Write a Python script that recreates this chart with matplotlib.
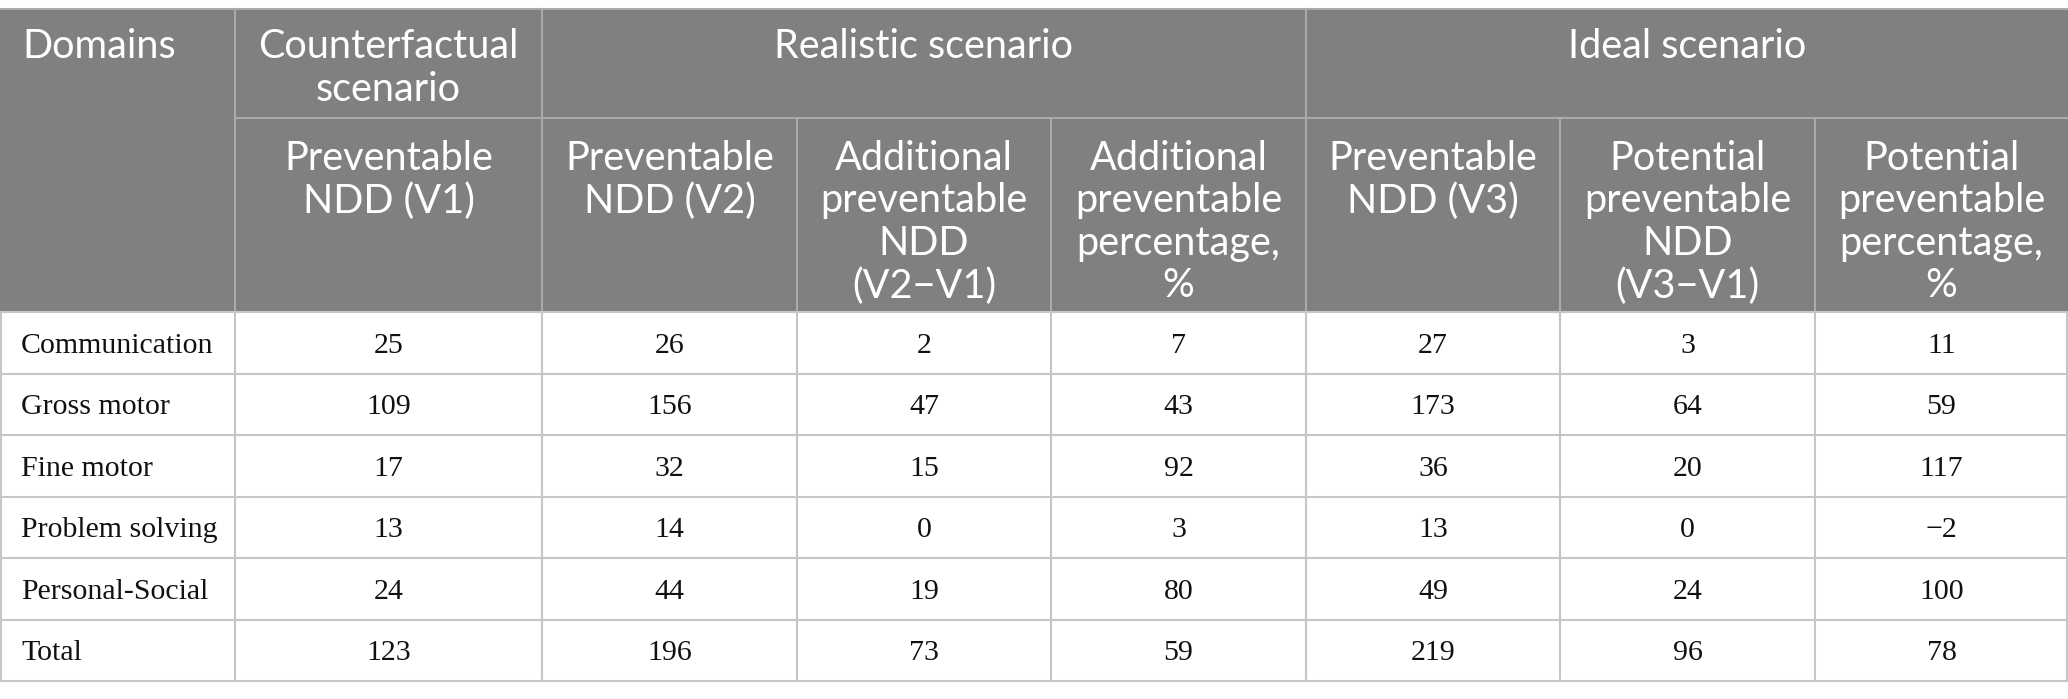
import matplotlib
matplotlib.use("Agg")
import matplotlib.pyplot as plt
from matplotlib.patches import Rectangle

domains = ["Communication", "Gross motor", "Fine motor", "Problem solving", "Personal-Social", "Total"]
v1 = ["25", "109", "17", "13", "24", "123"]
v2 = ["26", "156", "32", "14", "44", "196"]
v2_v1 = ["2", "47", "15", "0", "19", "73"]
add_pct = ["7", "43", "92", "3", "80", "59"]
v3 = ["27", "173", "36", "13", "49", "219"]
v3_v1 = ["3", "64", "20", "0", "24", "96"]
pot_pct = ["11", "59", "117", "\u22122", "100", "78"]

group_headers = ["Counterfactual\nscenario", "Realistic scenario", "Ideal scenario"]
sub_headers = ["Preventable\nNDD (V1)", "Preventable\nNDD (V2)", "Additional\npreventable\nNDD\n(V2\u2212V1)",
               "Additional\npreventable\npercentage,\n%", "Preventable\nNDD (V3)",
               "Potential\npreventable\nNDD\n(V3\u2212V1)", "Potential\npreventable\npercentage,\n%"]

W, H = 2068, 699
fig = plt.figure(figsize=(W / 100, H / 100), dpi=100)
ax = fig.add_axes([0, 0, 1, 1])
ax.set_xlim(0, W)
ax.set_ylim(H, 0)
ax.axis("off")

cols = [0, 235, 542, 797, 1051, 1306, 1560, 1815, 2068]
y_top, y_mid, y_head = 8.5, 118, 312
row_h = (681 - 312) / 6
rows = [y_head + i * row_h for i in range(7)]

hdr_bg = "#7f807f"
hdr_line = "#a9aaa9"
body_line = "#c6c6c6"
hfont = dict(family=["Lato", "DejaVu Sans"], color="white", fontsize=28.5, linespacing=1.18)
bfont = dict(family=["Liberation Serif", "DejaVu Serif"], color="#111111", fontsize=21.5)

ax.add_patch(Rectangle((0, y_top), W, y_head - y_top, facecolor=hdr_bg, edgecolor="none"))

# header lines
ax.plot([0, W], [y_top, y_top], color=hdr_line, lw=1.5)
ax.plot([cols[1], W], [y_mid, y_mid], color=hdr_line, lw=1.5)
for c in [cols[1], cols[2], cols[5]]:
    ax.plot([c, c], [y_top, y_head], color=hdr_line, lw=1.5)
for c in [cols[3], cols[4], cols[6], cols[7]]:
    ax.plot([c, c], [y_mid, y_head], color=hdr_line, lw=1.5)

# body lines
for y in rows:
    ax.plot([0, W], [y, y], color=body_line, lw=1.5)
for c in cols[1:-1]:
    ax.plot([c, c], [rows[0], rows[-1]], color=body_line, lw=1.5)
ax.plot([0.8, 0.8], [rows[0], rows[-1]], color=body_line, lw=1.5)
ax.plot([W - 0.8, W - 0.8], [rows[0], rows[-1]], color=body_line, lw=1.5)

# header texts
ax.text(22, y_top + 20, "Domains", ha="left", va="top", **hfont)
spans = [(cols[1], cols[2]), (cols[2], cols[5]), (cols[5], cols[8])]
for (a, b), t in zip(spans, group_headers):
    ax.text((a + b) / 2, y_top + 20, t, ha="center", va="top", multialignment="center", **hfont)
for i, t in enumerate(sub_headers):
    ax.text((cols[i + 1] + cols[i + 2]) / 2, y_mid + 22, t, ha="center", va="top",
            multialignment="center", **hfont)

# body texts
series = [v1, v2, v2_v1, add_pct, v3, v3_v1, pot_pct]
for r, d in enumerate(domains):
    yc = (rows[r] + rows[r + 1]) / 2
    ax.text(21, yc, d, ha="left", va="center_baseline", **bfont)
    for ci, s in enumerate(series):
        ax.text((cols[ci + 1] + cols[ci + 2]) / 2, yc, s[r], ha="center", va="center_baseline", **bfont)

fig.savefig("out.png", dpi=100)
